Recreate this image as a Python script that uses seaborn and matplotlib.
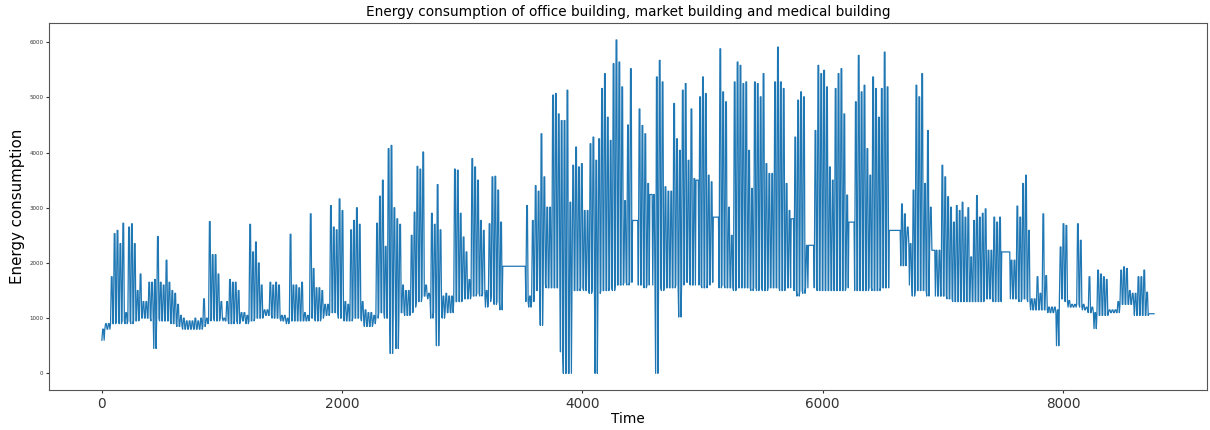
import numpy as np
import pandas as pd
import matplotlib
matplotlib.use("Agg")
import matplotlib.pyplot as plt
import seaborn as sns

# Daily peak (working hours) consumption, 365 days, seven values per row
daily_peak = [
    800, 900, 900, 1750, 2530, 2590, 2350,
    2720, 1100, 2650, 2710, 2350, 1500, 1800,
    1300, 1300, 1650, 1650, 1700, 2480, 1650,
    1600, 2050, 1650, 1500, 1450, 1250, 1050,
    1000, 950, 950, 950, 1000, 950, 1000,
    1350, 1000, 2750, 2150, 2150, 1800, 1300,
    1000, 1300, 1700, 1650, 1650, 1500, 1100,
    1100, 1050, 2700, 2200, 2380, 2000, 1600,
    1150, 1150, 1650, 1600, 1650, 1600, 1050,
    1050, 1000, 2520, 1600, 1600, 1550, 1650,
    1100, 1050, 2890, 1900, 1550, 1550, 1500,
    1250, 1250, 3040, 2650, 2600, 3160, 2950,
    1300, 1250, 2600, 2770, 3000, 2700, 1300,
    1150, 1100, 1100, 1050, 2720, 3210, 3500,
    2300, 4070, 4130, 3000, 2800, 2700, 1600,
    1500, 1500, 2500, 2920, 3750, 3700, 4010,
    1600, 1450, 2900, 2700, 3420, 2600, 1400,
    1450, 1400, 1400, 3700, 3680, 2900, 2470,
    2200, 1700, 3890, 3740, 3500, 2770, 2590,
    1500, 2710, 3560, 3570, 3320, 2740, 1940,
    1940, 1940, 1940, 1940, 1940, 1940, 1940,
    3040, 1400, 2770, 3400, 3300, 4340, 3560,
    3010, 3010, 5040, 5070, 4700, 4580, 4580,
    5130, 3100, 3770, 4100, 3740, 3800, 2950,
    2950, 4160, 4280, 3860, 4250, 5160, 5430,
    4640, 4220, 5610, 6040, 5640, 5190, 3130,
    4500, 5520, 2770, 2770, 4790, 4490, 4340,
    3440, 3240, 3240, 5370, 5670, 5280, 3380,
    3300, 3300, 4890, 4250, 4040, 5130, 5250,
    3860, 4790, 3530, 3500, 5010, 5370, 5070,
    3590, 3470, 2830, 2830, 5880, 5100, 4920,
    3010, 2500, 5280, 5640, 5580, 5250, 5280,
    4040, 3350, 5280, 5250, 5010, 5430, 3800,
    3620, 3620, 5280, 5910, 5280, 5160, 3440,
    2950, 2800, 4280, 4950, 5100, 5010, 2320,
    2320, 2320, 4400, 5580, 5430, 5490, 5190,
    3740, 3500, 5160, 5430, 5520, 4700, 3230,
    2740, 2740, 4920, 5760, 5100, 5220, 4070,
    3590, 5370, 5160, 4640, 5160, 5820, 5190,
    2590, 2590, 2590, 2590, 3070, 2890, 2650,
    2350, 3320, 5220, 5010, 5430, 3440, 4400,
    3010, 2230, 2230, 2230, 3770, 3560, 3200,
    3010, 2740, 3040, 2950, 3100, 2830, 3000,
    2110, 2770, 3220, 2830, 2900, 2980, 2230,
    2230, 2830, 2740, 2830, 2200, 2200, 2200,
    2050, 2050, 3030, 2830, 3440, 3590, 2590,
    1350, 1350, 1750, 1450, 2890, 1770, 1200,
    1200, 1200, 1150, 2290, 2710, 2680, 1320,
    1250, 1250, 2710, 2410, 1250, 1200, 1750,
    1200, 1100, 1870, 1800, 1750, 1700, 1150,
    1150, 1150, 1300, 1870, 1930, 1900, 1500,
    1450, 1450, 1750, 1750, 1870, 1470, 1080,
    1080,
]

# Daily base (night-time) consumption, same layout
daily_base = [
    600, 800, 800, 900, 900, 950, 900,
    950, 900, 950, 900, 950, 950, 1000,
    1000, 1000, 1000, 950, 450, 1000, 950,
    950, 950, 950, 900, 900, 850, 850,
    800, 800, 800, 800, 800, 800, 800,
    850, 900, 950, 1000, 950, 950, 1000,
    950, 950, 900, 900, 950, 900, 950,
    950, 900, 950, 950, 1000, 1000, 1000,
    1050, 1050, 1050, 1000, 1000, 1000, 950,
    950, 900, 950, 950, 950, 950, 950,
    950, 950, 1000, 1000, 950, 950, 1000,
    1050, 1050, 1100, 1100, 1100, 1000, 1000,
    950, 950, 950, 1000, 1000, 1000, 950,
    850, 850, 850, 900, 1000, 1100, 1100,
    1000, 1000, 360, 1100, 450, 1100, 1100,
    1050, 1050, 1100, 1200, 1300, 1300, 1400,
    1400, 1350, 1000, 1100, 500, 1100, 1000,
    1100, 1100, 1100, 1300, 1300, 1300, 1350,
    1350, 1350, 1400, 1400, 1450, 1400, 1440,
    1200, 1300, 1400, 1250, 1300, 1150, 1940,
    1940, 1940, 1940, 1940, 1940, 1940, 1940,
    1300, 1200, 1300, 1500, 1500, 870, 1600,
    1550, 1550, 1550, 1550, 1550, 390, 0,
    0, 0, 1500, 1500, 1500, 1550, 1500,
    1500, 1450, 1500, 0, 1450, 1500, 1500,
    1500, 1550, 1500, 1600, 1600, 1600, 1650,
    1600, 1650, 2770, 2770, 1600, 1600, 1550,
    1600, 3240, 1600, 0, 1550, 1500, 1550,
    1550, 1550, 1550, 1600, 1020, 1600, 1650,
    1650, 1600, 1600, 3500, 1600, 1550, 1550,
    1600, 1650, 2830, 2830, 1550, 1600, 1550,
    1550, 1550, 1500, 1550, 1550, 1550, 1550,
    1550, 1500, 1550, 1500, 1550, 1500, 1500,
    1550, 1550, 1550, 1550, 1500, 1500, 1550,
    1550, 2800, 1500, 1400, 1500, 1450, 1550,
    2320, 2320, 1550, 1500, 1500, 1500, 1500,
    1500, 1500, 1500, 1500, 1500, 1500, 1550,
    2740, 2740, 1500, 1500, 1500, 1500, 1500,
    1550, 1500, 1500, 1500, 1550, 1550, 1550,
    2590, 2590, 2590, 2590, 1950, 1950, 2350,
    1600, 1400, 1500, 1500, 1500, 1500, 1400,
    2230, 2230, 1400, 1400, 1400, 1400, 1350,
    1350, 1300, 1300, 1300, 1300, 1300, 1300,
    1300, 1300, 1300, 1300, 1300, 1350, 1350,
    1350, 1300, 1300, 1300, 2200, 2200, 2200,
    1350, 1350, 1350, 1300, 1350, 1350, 1300,
    1150, 1150, 1150, 1150, 1150, 1150, 1100,
    1100, 1100, 500, 1350, 1350, 1300, 1200,
    1200, 1200, 1250, 1200, 1150, 1150, 1100,
    1100, 810, 1050, 1050, 1050, 1050, 1100,
    1100, 1100, 1100, 1250, 1250, 1250, 1250,
    1250, 1050, 1050, 1050, 1050, 1050, 1080,
    1080,
]

# Daily profile: night base, ramp up in the morning, short hold, fall back in the evening
profile_hours = [2, 9, 15, 21]

n_days = min(len(daily_peak), len(daily_base))
base = np.asarray(daily_base[:n_days], dtype=float)
peak = np.asarray(daily_peak[:n_days], dtype=float)
day_start = np.arange(n_days) * 24
hours = (day_start[:, None] + np.asarray(profile_hours)[None, :]).ravel()
load = np.column_stack([base, peak, peak, base]).ravel()
df = pd.DataFrame({"Time": hours, "Energy consumption": load})

fig = plt.figure(figsize=(12.1, 4.3), dpi=100)
ax = fig.add_axes([0.0405, 0.093, 0.957, 0.8528])
sns.lineplot(data=df, x="Time", y="Energy consumption", ax=ax,
             estimator=None, color="#1f77b4", linewidth=0.9)

ax.set_xlim(-438, 9198)
ax.set_ylim(-302, 6342)
ax.set_title("Energy consumption of office building, market building and medical building",
             fontsize=9.8, pad=5)
ax.set_xlabel("Time", fontsize=9.8, labelpad=1)
ax.set_ylabel("Energy consumption", fontsize=10.8, labelpad=3)
ax.set_xticks([0, 2000, 4000, 6000, 8000])
ax.set_yticks([0, 1000, 2000, 3000, 4000, 5000, 6000])
ax.tick_params(axis="x", labelsize=9.8, length=2.5, pad=2.5, colors="#333333")
ax.tick_params(axis="y", labelsize=4, length=2, pad=2, colors="#333333")
for side in ax.spines.values():
    side.set_color("#555555")

fig.savefig("out.png", dpi=100)
